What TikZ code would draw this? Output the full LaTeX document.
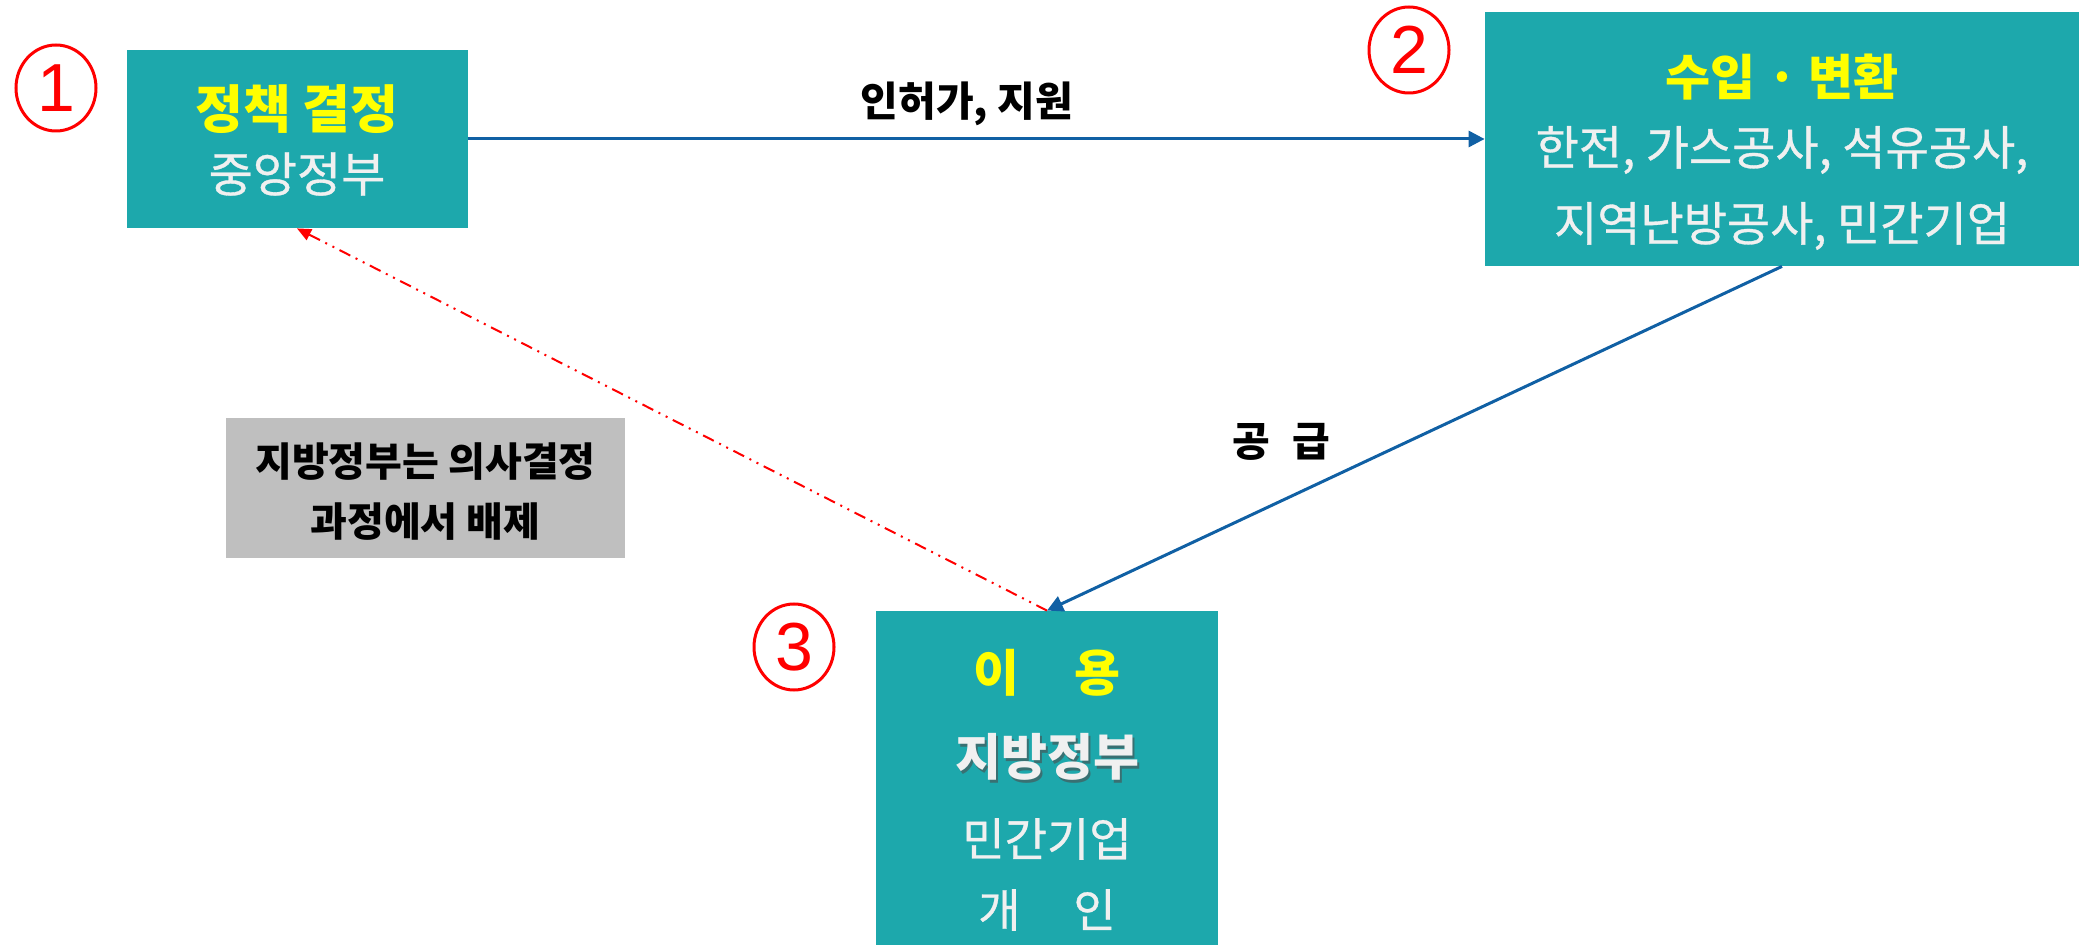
\documentclass[tikz,border=0pt]{standalone}
\usepackage{fontspec}
\setmainfont{Noto Sans CJK KR}
\newfontfamily\medfont[FakeBold=0.7]{Noto Sans CJK KR}
\newfontfamily\digitfont{Liberation Sans}
\usetikzlibrary{arrows.meta,shapes.geometric}
\definecolor{boxteal}{RGB}{29,168,172}
\definecolor{arrowblue}{RGB}{16,96,164}
\definecolor{softwhite}{RGB}{240,240,240}
\definecolor{labelgray}{RGB}{191,191,191}
\definecolor{titleyellow}{RGB}{255,255,0}
\tikzset{
  tbox/.style={fill=boxteal, draw=none, inner sep=0pt},
  gbox/.style={fill=labelgray, draw=none, inner sep=0pt},
  ttl/.style={text=titleyellow, font=\bfseries\fontsize{26}{30}\selectfont, inner sep=0pt},
  sub/.style={text=softwhite, font=\medfont\fontsize{24}{28}\selectfont, inner sep=0pt},
  lbl/.style={text=black, font=\bfseries\fontsize{20.5}{24}\selectfont, inner sep=0pt},
  circnum/.style={ellipse, draw=red, line width=1.5pt, minimum width=40pt, minimum height=43pt, inner sep=0pt, text=red, font=\digitfont\fontsize{34}{36}\selectfont},
  bluearrow/.style={draw=arrowblue, line width=1.5pt, -{Triangle[length=8pt,width=8pt]}},
  redarrow/.style={draw=red, line width=1pt, dash pattern=on 6pt off 3pt on 1pt off 3pt on 1pt off 3pt, -{Triangle[length=7pt,width=6pt]}}
}
\begin{document}
\begin{tikzpicture}[x=0.5pt,y=-0.5pt]
\useasboundingbox (0,0) rectangle (2082,945);
% boxes
\node[tbox, minimum width=170.5pt, minimum height=89pt] (b1) at (297,139) {};
\node[tbox, minimum width=297pt, minimum height=127pt] (b2) at (1782,139) {};
\node[tbox, minimum width=171pt, minimum height=167pt] (b3) at (1047,778) {};
\node[gbox, minimum width=199.5pt, minimum height=70pt] (g) at (425.5,488) {};
% box 1 texts
\node[ttl] (t1) at (297,109) {정책 결정};
\node[sub] (s1) at (297,174) {중앙정부};
% box 2 texts
\node[ttl, font=\bfseries\fontsize{24.5}{28}\selectfont] (t2) at (1782,77) {수입 · 변환};
\node[sub, font=\medfont\fontsize{23.5}{27}\selectfont] (s2a) at (1782,150) {한전, 가스공사, 석유공사,};
\node[sub, font=\medfont\fontsize{23.5}{27}\selectfont] (s2b) at (1782,226) {지역난방공사, 민간기업};
% box 3 texts
\node[ttl, font=\bfseries\fontsize{25}{29}\selectfont] (t3) at (1047,673) {이\hspace{1.1em}용};
\node[text=black!70, font=\bfseries\fontsize{25}{29}\selectfont, inner sep=0pt, opacity=0.6] (s3sh) at (1049.5,760) {지방정부};
\node[sub, font=\bfseries\fontsize{25}{29}\selectfont] (s3a) at (1047,757) {지방정부};
\node[sub, font=\medfont\fontsize{23}{27}\selectfont] (s3b) at (1047,839) {민간기업};
\node[sub, font=\medfont\fontsize{23}{27}\selectfont] (s3c) at (1047,910) {개\hspace{1.15em}인};
% gray box texts
\node[lbl, font=\bfseries\fontsize{20}{24}\selectfont] (g1) at (425.5,462) {지방정부는 의사결정};
\node[lbl, font=\bfseries\fontsize{20}{24}\selectfont] (g2) at (425.5,522) {과정에서 배제};
% circled numbers
\node[circnum] (c1) at (56,88) {1};
\node[circnum] (c2) at (1409,50) {2};
\node[circnum] (c3) at (794,647) {3};
% connectors
\draw[bluearrow] (b1.east) -- (b2.west);
\draw[bluearrow] (b2.south) -- (b3.north);
\draw[redarrow] (b3.north) -- (b1.south);
% connector labels
\node[lbl] (l1) at (967,104) {인허가, 지원};
\node[lbl] (l2) at (1281,442) {공\hspace{0.55em}급};
\end{tikzpicture}
\end{document}
